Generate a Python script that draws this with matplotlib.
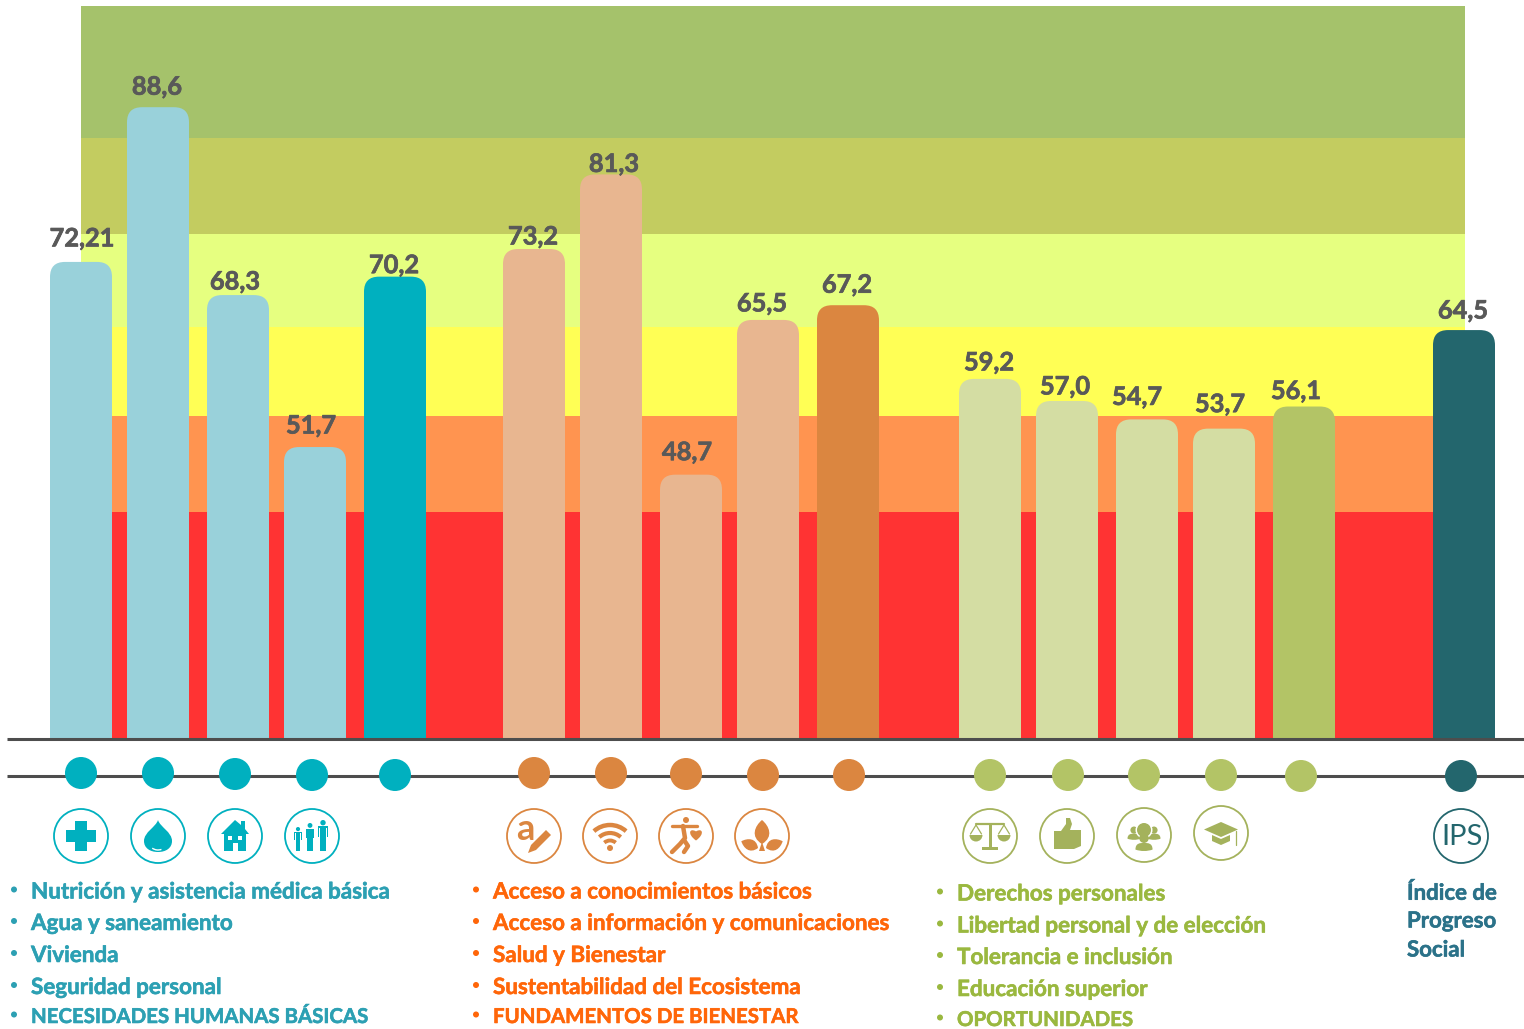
import numpy as np
import matplotlib
matplotlib.use("Agg")
import matplotlib.pyplot as plt
import matplotlib.patheffects as pe
from matplotlib.patches import Circle, Rectangle, Polygon, PathPatch, Arc, Wedge, FancyBboxPatch
from matplotlib.path import Path

plt.rcParams['font.family'] = ['Lato', 'DejaVu Sans']

# values
labels = ["72,21", "88,6", "68,3", "51,7", "70,2",
          "73,2", "81,3", "48,7", "65,5", "67,2",
          "59,2", "57,0", "54,7", "53,7", "56,1", "64,5"]
values = [71.8, 88.6, 68.2, 51.7, 70.2,
          73.2, 81.3, 48.7, 65.5, 67.1,
          59.1, 56.7, 54.7, 53.7, 56.1, 64.4]
band_edges = [20, 44.6, 55.1, 64.7, 74.8, 85.3, 99.6]
band_colors = ["#FF3333", "#FF9450", "#FFFF55", "#E6FF80", "#C3CC60", "#A5C26B"]

items_teal = ["Nutrición y asistencia médica básica", "Agua y saneamiento", "Vivienda",
              "Seguridad personal", "NECESIDADES HUMANAS BÁSICAS"]
items_orange = ["Acceso a conocimientos básicos", "Acceso a información y comunicaciones",
                "Salud y Bienestar", "Sustentabilidad del Ecosistema", "FUNDAMENTOS DE BIENESTAR"]
items_green = ["Derechos personales", "Libertad personal y de elección", "Tolerancia e inclusión",
               "Educación superior", "OPORTUNIDADES"]
ips_lines = ["Índice de", "Progreso", "Social"]

# layout, in pixels of the 1524x1029 picture
bar_x = [81, 158, 238, 315, 395, 534, 611, 691, 768, 848, 990, 1067, 1147, 1224, 1304, 1464]
label_dx = [1, -1, -3, -4, -1, -1, 3, -4, -6, -1, -1, -2, -10, -4, -8, -1]
label_dy = [23, 20, 13, 21, 11, 12, 10, 22, 16, 20, 16, 14, 22, 24, 15, 19]
LT, DT = "#99D1DA", "#00B0BF"
LO, DO = "#E8B690", "#DB8640"
LG, DG = "#D4DDA3", "#B3C466"
NAVY = "#23666D"
bar_colors = [LT, LT, LT, LT, DT, LO, LO, LO, LO, DO, LG, LG, LG, LG, DG, NAVY]

W, H = 1524, 1029
BASE_PX = 739
PX_PER_UNIT = 9.21

fig = plt.figure(figsize=(W / 100, H / 100), dpi=100)
ax = fig.add_axes([0, 1 - BASE_PX / H, 1, BASE_PX / H])
ax.set_xlim(0, W)
ax.set_ylim(20, 20 + BASE_PX / PX_PER_UNIT)
ax.axis("off")


def heavy(c, w=0.5):
    # Lato bold is lighter than the original face
    return [pe.withStroke(linewidth=w, foreground=c)]


for i, c in enumerate(band_colors):
    ax.fill_between([81, 1465], band_edges[i], band_edges[i + 1], color=c, lw=0, zorder=1)

for x, v, c, lab, dx, dy in zip(bar_x, values, bar_colors, labels, label_dx, label_dy):
    r = 15
    box = FancyBboxPatch((x - 31 + r, 0), 62 - 2 * r, v - r / PX_PER_UNIT,
                         boxstyle=f"round,pad={r},rounding_size={r}", mutation_aspect=1 / PX_PER_UNIT,
                         fc=c, ec="none", zorder=2)
    ax.add_patch(box)
    ax.annotate(lab, (x, v), xytext=(dx, dy), textcoords="offset pixels", ha="center", va="center",
                fontsize=18.3, fontweight="bold", color="#595959", zorder=3,
                path_effects=heavy("#595959"))

# lower part works directly in picture pixels
ov = fig.add_axes([0, 0, 1, 1], facecolor="none")
ov.set_xlim(0, W)
ov.set_ylim(H, 0)
ov.axis("off")

ov.plot([7, W], [739, 739], color="#4D4D4D", lw=2.2, solid_capstyle="butt", zorder=4)
ov.plot([7, W], [776, 776], color="#4D4D4D", lw=2.2, solid_capstyle="butt", zorder=1)

dots = [(81, 773, DT), (158, 773, DT), (235, 774, DT), (312, 775, DT), (395, 775, DT),
        (534, 773, DO), (611, 773, DO), (686, 774, DO), (763, 775, DO), (849, 775, DO),
        (990, 775, DG), (1068, 775, DG), (1144, 775, DG), (1221, 775, DG), (1301, 776, DG),
        (1461, 776, NAVY)]
for x, y, c in dots:
    ov.add_patch(Circle((x, y), 16, fc=c, ec="none", zorder=3))


def ring(x, y, c):
    ov.add_patch(Circle((x, y), 27, fc="white", ec=c, lw=1.3, zorder=3))


def rect(x, y, w, h, c, angle=0):
    ov.add_patch(Rectangle((x, y), w, h, angle=angle, fc=c, ec="none", zorder=4))


def poly(pts, c):
    ov.add_patch(Polygon(pts, closed=True, fc=c, ec="none", zorder=4))


def dot(x, y, r, c):
    ov.add_patch(Circle((x, y), r, fc=c, ec="none", zorder=4))


def stroke(xs, ys, c, lw=2.5):
    ov.plot(xs, ys, color=c, lw=lw, solid_capstyle="round", zorder=4)


def curve(start, segs, c, zorder=4):
    verts = [start]
    codes = [Path.MOVETO]
    for s in segs:
        verts += s
        codes += [Path.CURVE4] * 3
    verts.append(start)
    codes.append(Path.CLOSEPOLY)
    ov.add_patch(PathPatch(Path(verts, codes), fc=c, ec="none", zorder=zorder))


def leaf(x, y, ang, size, c):
    t = np.deg2rad(ang)
    rot = lambda px, py: (x + px * np.cos(t) - py * np.sin(t), y + px * np.sin(t) + py * np.cos(t))
    curve(rot(0, 0), [[rot(-size * .5, -size * .3), rot(-size * .3, -size * .75), rot(0, -size)],
                      [rot(size * .3, -size * .75), rot(size * .5, -size * .3), rot(0, 0)]], c)


def heart(x, y, s, c):
    curve((x, y + s), [[(x - s * 1.4, y), (x - s, y - s), (x, y - s * .4)],
                       [(x + s, y - s), (x + s * 1.4, y), (x, y + s)]], c)


def person(x, top, s, c):
    dot(x, top + 2.6 * s, 2.6 * s, c)
    rect(x - 2.8 * s, top + 6 * s, 5.6 * s, 12 * s, c)
    rect(x - 4.8 * s, top + 6 * s, 2.2 * s, 1.6 * s, c)
    rect(x + 2.6 * s, top + 6 * s, 2.2 * s, 1.6 * s, c)
    rect(x - 4.8 * s, top + 6 * s, 1.3 * s, 10 * s, c)
    rect(x + 3.5 * s, top + 6 * s, 1.3 * s, 10 * s, c)
    rect(x - 2.8 * s, top + 18 * s, 2.4 * s, 12 * s, c)
    rect(x + .4 * s, top + 18 * s, 2.4 * s, 12 * s, c)


def bust(x, y, s, c):
    dot(x, y - 4 * s, 5 * s, c)
    curve((x - 9 * s, y + 8 * s), [[(x - 9 * s, y + 1 * s), (x - 4 * s, y + 1 * s), (x, y + 1 * s)],
                                   [(x + 4 * s, y + 1 * s), (x + 9 * s, y + 1 * s), (x + 9 * s, y + 8 * s)],
                                   [(x + 3 * s, y + 10 * s), (x - 3 * s, y + 10 * s), (x - 9 * s, y + 8 * s)]], c)


# teal icons
ring(81, 836, DT)
rect(75, 821, 12, 30, DT)
rect(66, 830, 30, 12, DT)

ring(158, 836, DT)
curve((158, 820), [[(160, 827), (172, 832), (172, 841)],
                   [(172, 848), (166, 852), (158, 852)],
                   [(150, 852), (144, 848), (144, 841)],
                   [(144, 832), (156, 827), (158, 820)]], DT)
ov.add_patch(Arc((158, 840), 20, 20, theta1=70, theta2=125, color="white", lw=1, zorder=5))

ring(235, 836, DT)
poly([(221, 834), (235, 820), (241, 825), (241, 821), (245, 821), (245, 829), (249, 834)], DT)
rect(224, 834, 22, 17, DT)
rect(228, 835.5, 4, 4, "white")
rect(238, 835.5, 4, 4, "white")
rect(232.5, 843, 5, 8, "white")

ring(312, 836, DT)
person(298, 827, .8, DT)
person(310, 823, .93, DT)
person(323, 820, 1.04, DT)

# orange icons
ring(534, 836, DO)
ov.text(525, 830, "a", fontsize=26, fontweight="bold", color=DO, ha="center", va="center", zorder=4)
poly([(528, 853), (531, 845), (546, 830), (551, 835), (536, 850)], DO)

ring(610, 836, DO)
for d, lw in [(48, 3.2), (32, 3.0), (17, 2.8)]:
    ov.add_patch(Arc((610, 849), d, d, theta1=228, theta2=312, color=DO, lw=lw, zorder=4))
dot(610, 848, 3, DO)

ring(686, 836, DO)
dot(686, 820, 3, DO)
stroke([672, 697], [826, 826], DO, 2.4)
stroke([683, 685, 680, 672], [826, 838, 844, 852], DO, 3.2)
stroke([684, 688, 684], [840, 846, 852], DO, 3.2)
heart(696, 834, 6.5, DO)

ring(762, 836, DO)
leaf(762, 844, 0, 24, DO)
leaf(758, 848, -68, 18, DO)
leaf(766, 848, 68, 18, DO)
poly([(762, 842), (765, 851), (759, 851)], DO)

# green icons
OL = "#A4B25C"
ring(990, 836, OL)
rect(988.5, 824, 3, 24, OL)
rect(982, 847, 16, 3, OL)
stroke([976, 1004], [824, 824], OL, 1.6)
stroke([970.5, 976, 981.5], [834, 825, 834], OL, .9)
stroke([998.5, 1004, 1009.5], [834, 825, 834], OL, .9)
ov.add_patch(Wedge((976, 835), 6.5, 0, 180, fc=OL, ec="none", zorder=4))
ov.add_patch(Wedge((1004, 835), 6.5, 0, 180, fc=OL, ec="none", zorder=4))

ring(1067, 836, OL)
poly([(1054, 831), (1061, 831), (1066, 824), (1066, 818), (1070, 818), (1072, 824),
      (1070, 830), (1081, 830), (1081, 846), (1074, 849), (1054, 849)], OL)

ring(1144, 835, OL)
bust(1134, 833, .72, OL)
bust(1154, 833, .72, OL)
ov.add_patch(Circle((1144, 830), 8.5, fc="white", ec="none", zorder=4))
dot(1144, 830, 7, OL)
rect(1140, 836, 8, 5, OL)
bust(1144, 842, .95, OL)

ring(1221, 833, OL)
poly([(1221, 822), (1238, 829.5), (1221, 837), (1204, 829.5)], OL)
poly([(1212, 835), (1221, 839), (1230, 835), (1230, 841), (1221, 845), (1212, 841)], OL)
stroke([1236, 1236], [831, 845], OL, .9)

# IPS badge
ring(1461, 836, NAVY)
ov.text(1462, 837, "IPS", fontsize=21, color=NAVY, ha="center", va="center", zorder=4)

# bullet lists
TEAL_TXT, ORANGE_TXT, GREEN_TXT, IPS_TXT = "#2CA0B3", "#FF6609", "#9AB83F", "#2B7289"
list_y = [892, 923.5, 955.5, 987.5, 1017]
green_y = [894, 926, 957.5, 989.5, 1020]
for items, x, ys, c in [(items_teal, 31, list_y, TEAL_TXT),
                        (items_orange, 493, list_y, ORANGE_TXT),
                        (items_green, 957, green_y, GREEN_TXT)]:
    for s, y in zip(items, ys):
        ov.add_patch(Circle((x - 17, y - 2.5), 3, fc=c, ec="none"))
        size = 14.7 if s.isupper() else 16.15
        ov.text(x, y, s, fontsize=size, fontweight="bold", color=c, ha="left", va="center",
                path_effects=heavy(c, 0.4))

for s, y in zip(ips_lines, [893, 921, 950]):
    ov.text(1407, y, s, fontsize=16, fontweight="bold", color=IPS_TXT, ha="left", va="center",
            path_effects=heavy(IPS_TXT, 0.4))

fig.savefig("out.png", dpi=100)
